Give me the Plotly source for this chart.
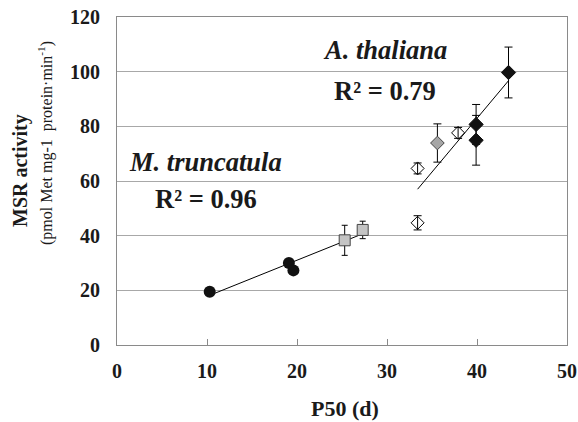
import numpy as np
import plotly.graph_objects as go

# M. truncatula
mt_circ_x = [10.3, 19.1, 19.6]
mt_circ_y = [19.5, 30.0, 27.3]
mt_sq_x = [25.3, 27.3]
mt_sq_y = [38.3, 42.1]
mt_sq_err = [5.5, 3.2]

# A. thaliana
at_open_x = [33.4, 33.4, 37.9]
at_open_y = [64.6, 44.7, 77.6]
at_open_err = [2.0, 2.6, 2.0]
at_gray_x = [35.6]
at_gray_y = [73.9]
at_gray_err = [7.0]
at_black_x = [39.9, 39.9, 43.5]
at_black_y = [80.7, 74.9, 99.7]
at_black_err = [7.3, 9.1, 9.3]

x_ticks = [0, 10, 20, 30, 40, 50]
y_ticks = [0, 20, 40, 60, 80, 100, 120]

r2_mt = "R² = 0.96"
r2_at = "R² = 0.79"

FONT = "Liberation Serif"
INK = "#1a1a1a"

fig = go.Figure()

# trendlines from linear fits
mt_x = np.array(mt_circ_x + mt_sq_x)
mt_y = np.array(mt_circ_y + mt_sq_y)
p = np.polyfit(mt_x, mt_y, 1)
lx = np.array([mt_x.min(), mt_x.max()])
fig.add_trace(go.Scatter(x=lx, y=np.polyval(p, lx), mode="lines",
                         line=dict(color="black", width=1), showlegend=False, hoverinfo="skip"))

at_x = np.array(at_open_x + at_gray_x + at_black_x)
at_y = np.array(at_open_y + at_gray_y + at_black_y)
q = np.polyfit(at_x, at_y, 1)
lx2 = np.array([at_x.min(), at_x.max()])
fig.add_trace(go.Scatter(x=lx2, y=np.polyval(q, lx2), mode="lines",
                         line=dict(color="black", width=1), showlegend=False, hoverinfo="skip"))

fig.add_trace(go.Scatter(x=mt_circ_x, y=mt_circ_y, mode="markers",
                         marker=dict(symbol="circle", size=12, color="#111111"), showlegend=False))
fig.add_trace(go.Scatter(x=mt_sq_x, y=mt_sq_y, mode="markers",
                         error_y=dict(type="data", array=mt_sq_err, color="black", thickness=1, width=3),
                         marker=dict(symbol="square", size=11, color="#c4c4c4",
                                     line=dict(color="#444444", width=1)), showlegend=False))
fig.add_trace(go.Scatter(x=at_open_x, y=at_open_y, mode="markers",
                         error_y=dict(type="data", array=at_open_err, color="black", thickness=1, width=4),
                         marker=dict(symbol="diamond-open", size=10, color="black",
                                     line=dict(color="black", width=1)), showlegend=False))
fig.add_trace(go.Scatter(x=at_gray_x, y=at_gray_y, mode="markers",
                         error_y=dict(type="data", array=at_gray_err, color="black", thickness=1, width=4),
                         marker=dict(symbol="diamond", size=10.5, color="#a6a6a6",
                                     line=dict(color="#444444", width=1)), showlegend=False))
fig.add_trace(go.Scatter(x=at_black_x, y=at_black_y, mode="markers",
                         error_y=dict(type="data", array=at_black_err, color="black", thickness=1, width=4),
                         marker=dict(symbol="diamond", size=11, color="#111111",
                                     line=dict(color="#111111", width=1)), showlegend=False))

anns = [
    dict(x=29.8, y=108.0, text="<i>A. thaliana</i>"),
    dict(x=29.8, y=93.0, text=r2_at),
    dict(x=9.8, y=67.0, text="<i>M. truncatula</i>"),
    dict(x=9.9, y=53.3, text=r2_mt),
]
annotations = [dict(x=a["x"], y=a["y"], xref="x", yref="y", text="<b>" + a["text"] + "</b>",
                    showarrow=False, xanchor="center", yanchor="middle",
                    font=dict(family=FONT, size=26.5, color=INK)) for a in anns]
# plot area in px: x 117..567, y 17..345
annotations.append(dict(x=(20 - 117) / 450, y=(345 - 171) / 328, xref="paper", yref="paper",
                        text="<b>MSR activity</b>",
                        showarrow=False, textangle=-90, xanchor="center", yanchor="middle",
                        font=dict(family=FONT, size=20, color=INK)))
annotations.append(dict(x=(45 - 117) / 450, y=(345 - 143) / 328, xref="paper", yref="paper",
                        text="(pmol Met mg-1  protein·min<sup>-1</sup>)",
                        showarrow=False, textangle=-90, xanchor="center", yanchor="middle",
                        font=dict(family=FONT, size=16, color=INK)))
annotations.append(dict(x=(345 - 117) / 450, y=(345 - 408) / 328, xref="paper", yref="paper",
                        text="<b>P50 (d)</b>",
                        showarrow=False, xanchor="center", yanchor="middle",
                        font=dict(family=FONT, size=22, color=INK)))

fig.update_layout(
    width=578, height=422,
    margin=dict(l=117, r=11, t=17, b=77),
    plot_bgcolor="white", paper_bgcolor="white",
    annotations=annotations,
    font=dict(family=FONT, color=INK),
)
fig.update_xaxes(range=[0, 50], tickmode="array", tickvals=x_ticks,
                 ticktext=["<b>%d</b>" % v for v in x_ticks],
                 showgrid=False, zeroline=False, automargin=False, ticklabeloverflow="allow",
                 showline=True, mirror=True, linecolor="#8a8a8a", linewidth=1,
                 ticks="inside", ticklen=6, tickcolor="#8a8a8a",
                 tickfont=dict(family=FONT, size=20, color=INK),
                 ticklabelstandoff=8)
fig.update_yaxes(range=[0, 120], tickmode="array", tickvals=y_ticks,
                 ticktext=["<b>%d</b>" % v for v in y_ticks],
                 showgrid=True, gridcolor="#a8a8a8", gridwidth=1, automargin=False,
                 ticklabeloverflow="allow",
                 zeroline=False, showline=True, mirror=True, linecolor="#8a8a8a", linewidth=1,
                 ticks="", tickfont=dict(family=FONT, size=20, color=INK),
                 ticklabelstandoff=12)

fig.write_html("out.html", config={"displayModeBar": False},
               post_script="document.body.style.margin='0px';")
